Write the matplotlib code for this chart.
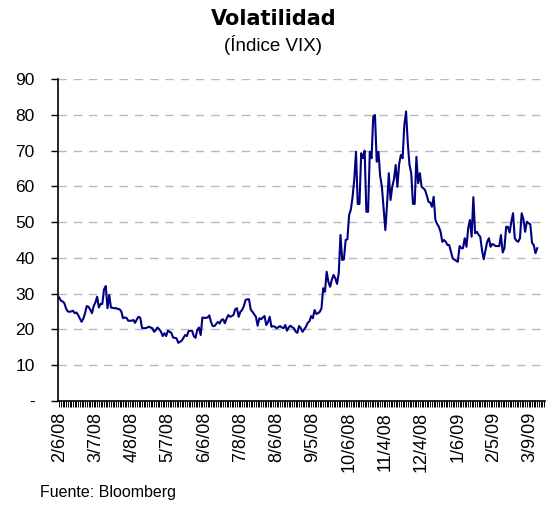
import matplotlib
matplotlib.use('Agg')
import matplotlib.pyplot as plt
import numpy as np

# VIX daily close, trading days from 2/6/08
vix = [
    28.9, 28.0, 27.8, 27.3, 25.8, 25.0, 24.9, 25.0, 25.2, 24.5,
    24.7, 24.0, 23.0, 22.1, 23.0, 24.5, 26.5, 26.3, 25.5, 24.5,
    26.5, 27.5, 29.1, 26.1, 27.1, 27.1, 31.2, 32.1, 25.9, 29.6,
    26.1, 26.0, 25.9, 25.9, 25.7, 25.6, 25.0, 23.1, 23.3, 23.2,
    22.4, 22.4, 22.4, 22.6, 21.8, 22.8, 23.5, 23.2, 20.4, 20.3,
    20.3, 20.5, 20.7, 20.5, 20.3, 19.3, 19.8, 20.5, 20.0, 19.3,
    18.1, 18.9, 18.1, 19.6, 19.3, 19.0, 17.7, 17.6, 17.5, 16.2,
    16.5, 16.8, 17.6, 18.4, 18.1, 19.5, 19.6, 19.6, 18.1, 17.6,
    19.8, 20.5, 18.4, 23.3, 23.2, 23.2, 23.3, 23.9, 22.0, 20.9,
    20.9, 21.5, 22.1, 21.6, 22.6, 22.8, 21.7, 23.0, 24.0, 23.5,
    23.7, 24.0, 25.6, 25.9, 23.5, 24.9, 25.4, 26.5, 28.2, 28.4,
    28.4, 25.5, 24.9, 24.2, 23.5, 21.0, 23.1, 22.8, 23.3, 23.7,
    21.2, 22.0, 23.5, 20.7, 20.9, 20.7, 20.3, 20.6, 20.9, 20.5,
    20.3, 21.2, 19.6, 20.5, 21.0, 20.6, 20.3, 19.4, 19.0, 20.9,
    20.3, 19.3, 20.0, 20.7, 21.8, 22.2, 23.7, 23.1, 25.4, 24.3,
    24.5, 24.9, 25.9, 31.5, 30.5, 36.1, 33.3, 31.9, 33.9, 35.2,
    34.3, 32.7, 35.7, 46.4, 39.4, 39.6, 45.0, 45.2, 52.0, 53.5,
    57.0, 62.0, 69.7, 55.1, 55.1, 69.3, 67.9, 70.0, 52.9, 52.9,
    69.7, 67.9, 79.6, 80.0, 66.9, 69.7, 62.9, 59.9, 53.7, 47.8,
    55.0, 63.7, 56.2, 59.9, 62.0, 66.0, 59.9, 66.3, 68.8, 67.9,
    77.2, 81.0, 72.1, 66.0, 63.7, 55.1, 55.1, 68.3, 60.9, 63.7,
    59.9, 59.5, 59.0, 57.5, 55.7, 55.5, 54.3, 57.1, 50.6, 49.5,
    48.7, 47.3, 44.5, 45.0, 44.5, 43.6, 43.6, 41.7, 39.9, 39.5,
    39.2, 38.9, 43.3, 42.7, 42.7, 45.5, 43.1, 48.3, 50.6, 45.9,
    57.0, 46.9, 47.3, 46.5, 45.9, 42.2, 39.6, 42.0, 44.5, 45.5,
    43.1, 43.9, 43.6, 43.3, 43.3, 43.3, 46.4, 41.5, 42.7, 48.7,
    48.7, 47.1, 50.1, 52.5, 45.5, 44.8, 44.5, 45.5, 52.5, 50.8,
    47.3, 50.1, 49.7, 49.4, 44.2, 43.6, 41.3, 42.7,
]

date_labels = ['2/6/08', '3/7/08', '4/8/08', '5/7/08', '6/6/08', '7/8/08',
               '8/6/08', '9/5/08', '10/6/08', '11/4/08', '12/4/08',
               '1/6/09', '2/5/09', '3/9/09']
label_step = 21
n_cats = 282

y_ticks = [0, 10, 20, 30, 40, 50, 60, 70, 80, 90]
y_labels = ['-'] + [str(v) for v in y_ticks[1:]]

fig = plt.figure(figsize=(5.47, 5.05), dpi=100)
ax = fig.add_axes([0.1066, 0.2065, 0.8897, 0.6365])

x = np.arange(len(vix))
ax.plot(x, vix, color='#000080', lw=1.5, zorder=3)

ax.set_xlim(-0.5, n_cats - 0.5)
ax.set_ylim(0, 90)

ax.set_yticks(y_ticks)
ax.set_yticklabels(y_labels, fontsize=12.5, family='Liberation Sans')
for v in y_ticks[1:]:
    ax.axhline(v, color='#b8b8b8', lw=1.0, ls=(0, (6, 5)), zorder=1)

ax.set_xticks(np.arange(len(date_labels)) * label_step)
ax.set_xticklabels(date_labels, rotation=90, fontsize=13,
                   family='Liberation Sans')
ax.set_xticks(np.arange(n_cats), minor=True)
ax.tick_params(axis='x', which='major', length=4, width=0.7, pad=4)
ax.tick_params(axis='x', which='minor', length=4, width=0.7)
ax.tick_params(axis='y', length=5, width=1, pad=12)

for s in ['top', 'right']:
    ax.spines[s].set_visible(False)
ax.spines['left'].set_linewidth(1.2)
ax.spines['bottom'].set_linewidth(1.2)

fig.text(0.5, 0.963, 'Volatilidad', ha='center', va='center',
         fontsize=15, fontweight='bold', family='DejaVu Sans')
fig.text(0.5, 0.91, '(Índice VIX)', ha='center', va='center',
         fontsize=13.5, family='Liberation Sans')
fig.text(0.073, 0.024, 'Fuente: Bloomberg', ha='left', va='center',
         fontsize=11.5, family='Liberation Sans')

fig.savefig('out.png', dpi=100)
